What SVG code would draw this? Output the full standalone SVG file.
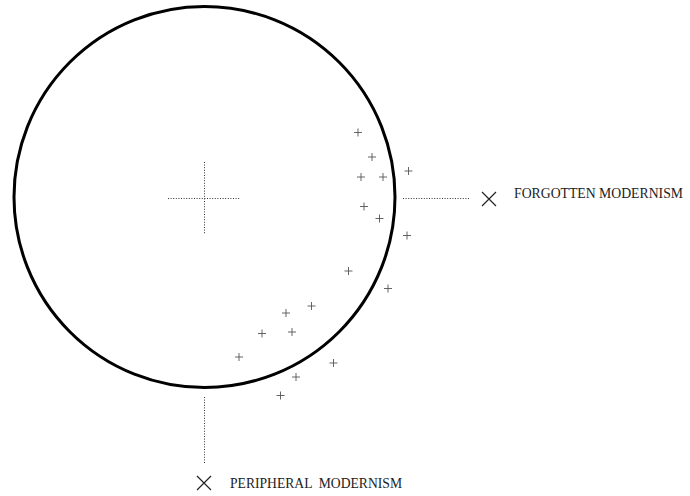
<svg xmlns="http://www.w3.org/2000/svg" width="690" height="496" viewBox="0 0 690 496">
<defs>
<style>
.ring{fill:none;stroke:#000;stroke-width:3}
.dot{fill:none;stroke:#333;stroke-width:1;stroke-dasharray:1 1.6}
.pl{stroke:#555;stroke-width:0.9}
.x{stroke:#222;stroke-width:1.2}
.lbl{font-family:"Liberation Serif","Times New Roman",serif;font-size:14px;fill:#222}
</style>
<path id="p" class="pl" d="M-4 0H4M0 -4V4"/>
<path id="xm" class="x" d="M-7 -7L7 7M-7 7L7 -7"/>
</defs>
<g id="circle">
<circle class="ring" cx="204.5" cy="197" r="190.5"/>
<path class="dot" d="M168 198.5H240M204.5 162V234"/>
</g>
<g id="points">
<use href="#p" x="358" y="132.5"/>
<use href="#p" x="372" y="157"/>
<use href="#p" x="361" y="177"/>
<use href="#p" x="383" y="177"/>
<use href="#p" x="408.5" y="171"/>
<use href="#p" x="364" y="206.5"/>
<use href="#p" x="379.5" y="218.5"/>
<use href="#p" x="407" y="235.5"/>
<use href="#p" x="348.5" y="271"/>
<use href="#p" x="388" y="288.5"/>
<use href="#p" x="311.5" y="306"/>
<use href="#p" x="286" y="313"/>
<use href="#p" x="262" y="333.5"/>
<use href="#p" x="292" y="332"/>
<use href="#p" x="239" y="357"/>
<use href="#p" x="333.5" y="363"/>
<use href="#p" x="296" y="377"/>
<use href="#p" x="280.5" y="395.5"/>
</g>
<g id="connectors">
<path class="dot" d="M403 198.5H469"/>
<path class="dot" d="M204.5 397V463"/>
</g>
<g id="forgotten">
<use href="#xm" x="489" y="199"/>
<text class="lbl" x="514" y="198" textLength="169" lengthAdjust="spacingAndGlyphs">FORGOTTEN MODERNISM</text>
</g>
<g id="peripheral">
<use href="#xm" x="204" y="483"/>
<text class="lbl" x="230" y="487.5" xml:space="preserve" textLength="172" lengthAdjust="spacingAndGlyphs">PERIPHERAL  MODERNISM</text>
</g>
</svg>
